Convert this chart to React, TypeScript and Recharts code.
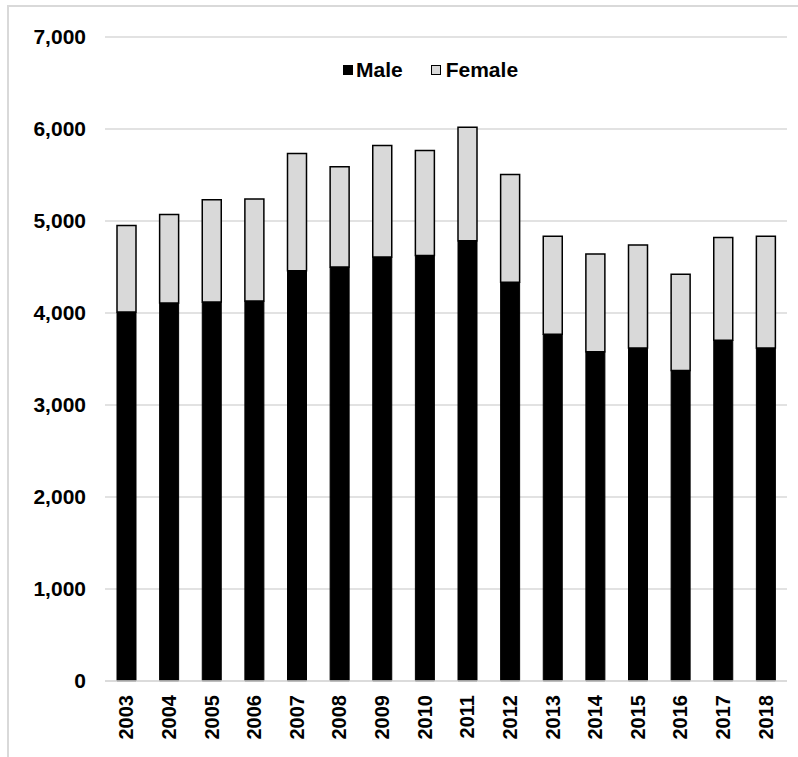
import { BarChart, Bar, XAxis, YAxis, CartesianGrid, Legend } from 'recharts'

const years = [
    '2003', '2004', '2005', '2006', '2007', '2008', '2009', '2010',
    '2011', '2012', '2013', '2014', '2015', '2016', '2017', '2018',
]
const male = [4010, 4110, 4120, 4130, 4460, 4500, 4610, 4625, 4785, 4335, 3770, 3580, 3620, 3375, 3705, 3620]
const female = [940, 960, 1110, 1110, 1275, 1090, 1210, 1140, 1235, 1170, 1065, 1060, 1120, 1045, 1115, 1215]
const yTicks = [0, 1000, 2000, 3000, 4000, 5000, 6000, 7000]

const data = years.map((year, i) => ({ year, male: male[i], female: female[i] }))

const FONT = '"Liberation Sans", Arial, sans-serif'
const GRID = '#d9d9d9'

const formatThousands = (v: number) => v.toLocaleString('en-US')

// Year labels run bottom-to-top under each bar
const YearTick = ({ x, y, payload }: any) => {
    const ty = y + 6
    return (
        <text
            x={x}
            y={ty}
            transform={`rotate(-90, ${x}, ${ty})`}
            textAnchor="end"
            dominantBaseline="central"
            fill="#000"
            fontSize={20}
            fontWeight={700}
            fontFamily={FONT}
        >
            {payload.value}
        </text>
    )
}

const LegendContent = () => (
    <div style={{ display: 'flex', alignItems: 'center', fontFamily: FONT, fontSize: 21, fontWeight: 700, color: '#000' }}>
        <span style={{ width: 10, height: 10, background: '#000', marginRight: 3, display: 'inline-block' }} />
        <span style={{ marginRight: 28 }}>Male</span>
        <span style={{ width: 8, height: 8, background: '#d9d9d9', border: '1px solid #000', marginRight: 5, display: 'inline-block' }} />
        <span>Female</span>
    </div>
)

export default function App() {
    return (
        <div style={{ position: 'absolute', top: 0, left: 0, width: 798, height: 757, background: '#fff', overflow: 'hidden' }}>
            {/* frame of the surrounding figure */}
            <div style={{
                position: 'absolute', left: 7, top: 5, width: 800, height: 800,
                borderTop: `2px solid ${GRID}`, borderLeft: `2px solid ${GRID}`,
            }} />
            <BarChart
                width={798}
                height={757}
                data={data}
                margin={{ top: 37, right: 11, bottom: 0, left: 0 }}
                style={{ position: 'absolute', top: 0, left: 0 }}
            >
                <CartesianGrid vertical={false} stroke={GRID} strokeWidth={1.5} />
                <XAxis
                    dataKey="year"
                    height={76}
                    interval={0}
                    tickLine={false}
                    axisLine={{ stroke: GRID, strokeWidth: 1.5 }}
                    tick={<YearTick />}
                />
                <YAxis
                    width={105}
                    domain={[0, 7000]}
                    ticks={yTicks}
                    tickFormatter={formatThousands}
                    axisLine={false}
                    tickLine={false}
                    tickSize={0}
                    tickMargin={19}
                    tick={{ fill: '#000', fontSize: 21, fontWeight: 700, fontFamily: FONT }}
                />
                <Legend
                    verticalAlign="middle"
                    align="center"
                    content={<LegendContent />}
                    wrapperStyle={{ top: 58, left: 343, width: 'auto' }}
                />
                <Bar dataKey="male" name="Male" stackId="a" fill="#000" stroke="#000" strokeWidth={1} barSize={19} isAnimationActive={false} />
                <Bar dataKey="female" name="Female" stackId="a" fill="#d9d9d9" stroke="#000" strokeWidth={1.5} barSize={19} isAnimationActive={false} />
            </BarChart>
        </div>
    )
}
